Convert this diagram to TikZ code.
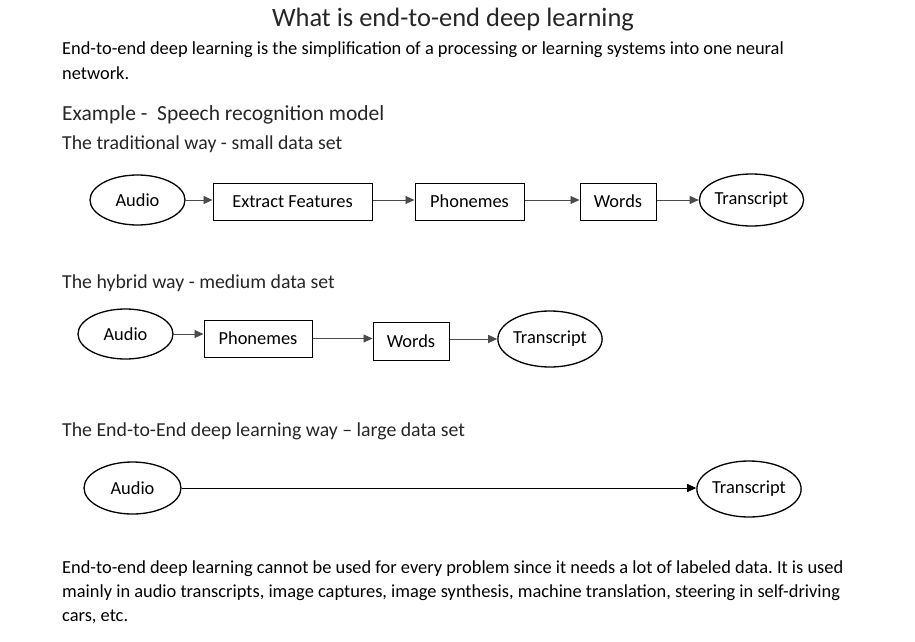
\documentclass[tikz,border=0pt]{standalone}
\usepackage{fontspec}
\setmainfont{Carlito}
\usetikzlibrary{arrows.meta,shapes.geometric}
\frenchspacing
\begin{document}
\begin{tikzpicture}[x=1pt,y=-1pt,
  bodyfont/.style={font=\fontsize{18.4}{22}\selectfont},
  ell/.style={draw, ellipse, line width=1.3pt, inner sep=0pt, bodyfont},
  boxnode/.style={draw, rectangle, line width=1pt, inner sep=0pt, minimum height=37pt, bodyfont},
  arr/.style={-{Triangle[length=9pt,width=8pt]}, line width=0.9pt, draw=black!70},
  arrdark/.style={-{Triangle[length=9pt,width=8pt]}, line width=0.9pt, draw=black},
  txt/.style={anchor=base west, inner sep=0pt, bodyfont},
  head/.style={anchor=base west, inner sep=0pt, font=\fontsize{19.8}{24}\selectfont, text=black!85}
]
\useasboundingbox (0,0) rectangle (915,642);

% title and text
\node[anchor=base, inner sep=0pt, font=\fontsize{26.5}{30}\selectfont, text=black!85] (title) at (453,27) {What is end-to-end deep learning};
\node[txt] (p1a) at (62,55) {End-to-end deep learning is the simplification of a processing or learning systems into one neural};
\node[txt] (p1b) at (62,79) {network.};
\node[anchor=base west, inner sep=0pt, font=\fontsize{21.5}{26}\selectfont, text=black!85] (ex) at (62,120) {Example -\ \ Speech recognition model};
\node[head] (h1) at (62,149) {The traditional way - small data set};
\node[head] (h2) at (62,288) {The hybrid way - medium data set};
\node[head] (h3) at (62,436) {The End-to-End deep learning way -- large data set};
\node[txt] (q1) at (62,573) {End-to-end deep learning cannot be used for every problem since it needs a lot of labeled data. It is used};
\node[txt] (q2) at (62,597) {mainly in audio transcripts, image captures, image synthesis, machine translation, steering in self-driving};
\node[txt] (q3) at (62,621) {cars, etc.};

% row 1
\node[ell, minimum width=95pt, minimum height=50pt] (a1) at (137.5,200) {Audio};
\node[boxnode, minimum width=159pt] (f1) at (292.5,201.5) {Extract Features};
\node[boxnode, minimum width=109pt] (p1) at (469.5,201.5) {Phonemes};
\node[boxnode, minimum width=76pt] (w1) at (618,201.5) {Words};
\node[ell, minimum width=95pt, minimum height=52pt] (t1) at (751.5,200) {Transcript};
\draw[arr] (a1.east) -- (f1.west |- a1.east);
\draw[arr] (f1.east |- a1.east) -- (p1.west |- a1.east);
\draw[arr] (p1.east |- a1.east) -- (w1.west |- a1.east);
\draw[arr] (w1.east |- a1.east) -- (t1.west);

% row 2
\node[ell, minimum width=95pt, minimum height=50pt] (a2) at (125.5,334) {Audio};
\node[boxnode, minimum width=108pt] (p2) at (258,338.5) {Phonemes};
\node[boxnode, minimum width=76pt, minimum height=38pt] (w2) at (411,341) {Words};
\node[ell, minimum width=94pt, minimum height=56pt] (t2) at (550,339) {Transcript};
\draw[arr] (a2.east) -- (p2.west |- a2.east);
\draw[arr] (p2.east) -- (w2.west |- p2.east);
\draw[arr] (w2.east |- t2.west) -- (t2.west);

% row 3
\node[ell, minimum width=97pt, minimum height=52pt] (a3) at (132.5,488) {Audio};
\node[ell, minimum width=96pt, minimum height=56pt] (t3) at (749,489) {Transcript};
\draw[arrdark] (a3.east) -- (a3.east -| t3.west);
\end{tikzpicture}
\end{document}
